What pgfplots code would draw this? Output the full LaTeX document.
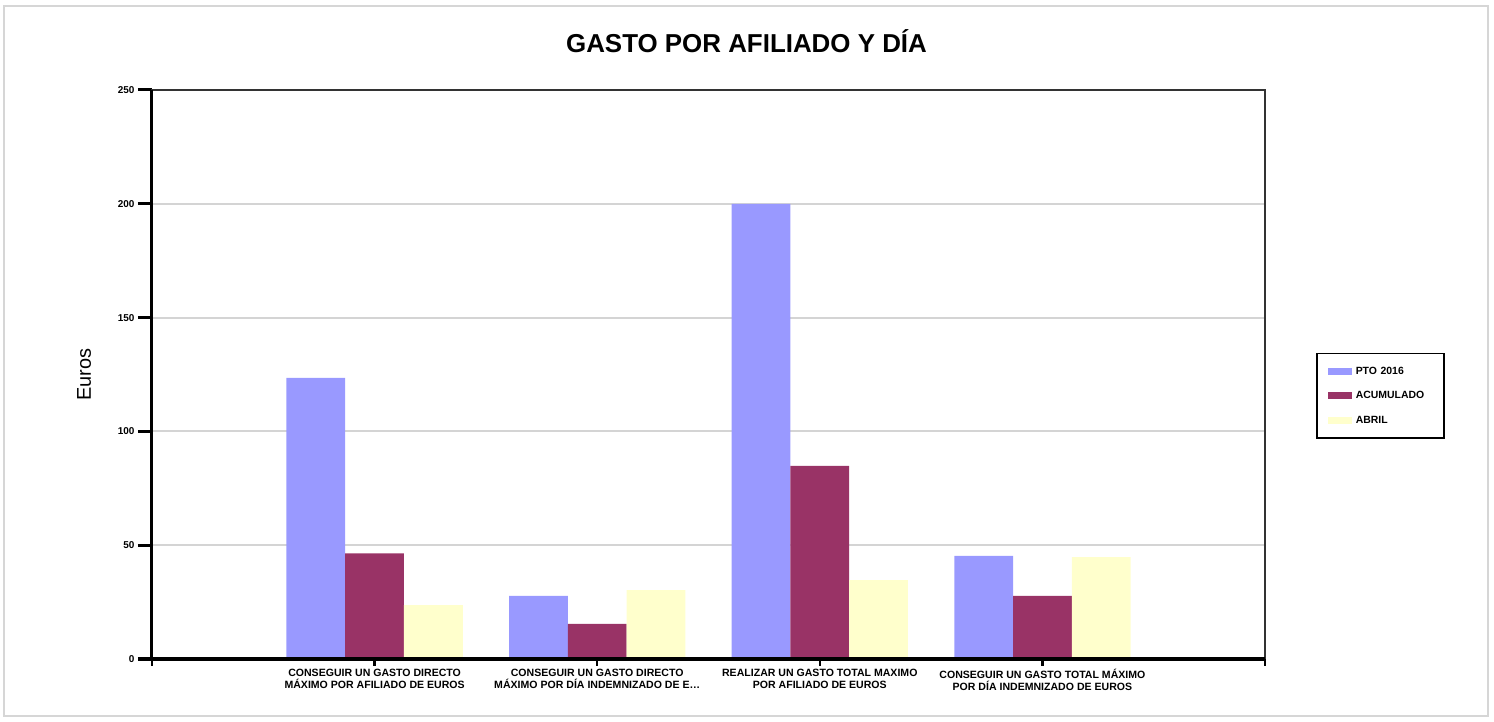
\documentclass[border=0pt]{standalone}
\usepackage{fontspec}
\setmainfont{Liberation Sans}
\usepackage{pgfplots}
\pgfplotsset{compat=1.18}
\definecolor{cPTO}{HTML}{9999FF}
\definecolor{cACU}{HTML}{993366}
\definecolor{cABR}{HTML}{FFFFCC}
\definecolor{gridc}{HTML}{D4D4D4}
\definecolor{framec}{HTML}{D6D6D6}
\begin{document}
\begin{tikzpicture}
\path[use as bounding box] (-152bp,-63bp) rectangle (1342bp,659bp);
\draw[framec, line width=2bp] (-148bp,-57bp) rectangle (1336bp,653bp);
\begin{axis}[
  at={(0,0)}, anchor=south west,
  scale only axis, width=1113bp, height=569bp,
  xmin=0, xmax=5, ymin=0, ymax=250,
  clip=false,
  ybar, bar width=0.264,
  xtick={1,2,3,4},
  xticklabels={{CONSEGUIR UN GASTO DIRECTO\\MÁXIMO POR AFILIADO DE EUROS},
               {CONSEGUIR UN GASTO DIRECTO\\MÁXIMO POR DÍA INDEMNIZADO DE E…},
               {REALIZAR UN GASTO TOTAL MAXIMO\\POR AFILIADO DE EUROS},
               {CONSEGUIR UN GASTO TOTAL MÁXIMO\\POR DÍA INDEMNIZADO DE EUROS}},
  x tick style={draw=none},
  ytick={0,50,100,150,200,250},
  ytick pos=left,
  ymajorgrids, grid style={gridc, line width=2bp},
  tick align=outside, major tick length=14bp,
  y tick style={black, line width=3bp},
  y tick label style={font=\bfseries\fontsize{10}{12}\selectfont},
  x tick label style={font=\bfseries\fontsize{10.6}{12.4}\selectfont, align=center, yshift=7.5bp},
  /pgf/number format/assume math mode=true,
  axis line style={draw=black!80, line width=1.5bp},
  ylabel={Euros},
  ylabel style={font=\fontsize{20}{24}\selectfont, at={(axis description cs:-0.0611,0.5)}, anchor=center},
  legend style={at={(1.04582,0.53779)}, anchor=north west, draw=black, line width=1.5bp,
    font=\bfseries\fontsize{10.5}{12}\selectfont, inner xsep=11bp, inner ysep=12bp,
    row sep=14bp, cells={anchor=west}, nodes={inner sep=1bp},
    /tikz/every odd column/.append style={column sep=3bp},
    /tikz/every even column/.append style={text width=76bp, align=left}},
  legend cell align=left,
]
\addplot[fill=cPTO, draw=none, bar shift=-0.264,
  legend image code/.code={\fill[cPTO] (0bp,-3.5bp) rectangle (24bp,3.5bp);}]
  coordinates {(1,123.5) (2,27.7) (3,200) (4,45.3)};
\addplot[fill=cACU, draw=none, bar shift=0,
  legend image code/.code={\fill[cACU] (0bp,-3.5bp) rectangle (24bp,3.5bp);}]
  coordinates {(1,46.4) (2,15.4) (3,84.8) (4,27.7)};
\addplot[fill=cABR, draw=none, bar shift=0.264,
  legend image code/.code={\fill[cABR] (0bp,-3.5bp) rectangle (24bp,3.5bp);}]
  coordinates {(1,23.7) (2,30.3) (3,34.7) (4,44.8)};
\legend{PTO 2016, ACUMULADO, ABRIL}
\draw[black, line width=3bp] (rel axis cs:0,1) -- (rel axis cs:0,0) -- (rel axis cs:1,0);
\pgfplotsinvokeforeach{0,...,5}{\draw[black, line width=2.5bp] (axis cs:#1,0) -- ++(0,-7bp);}
\end{axis}
\node[font=\bfseries\fontsize{26}{30}\selectfont, anchor=base] at (594.5bp,606.3bp) {GASTO POR AFILIADO Y DÍA};
\end{tikzpicture}
\end{document}
